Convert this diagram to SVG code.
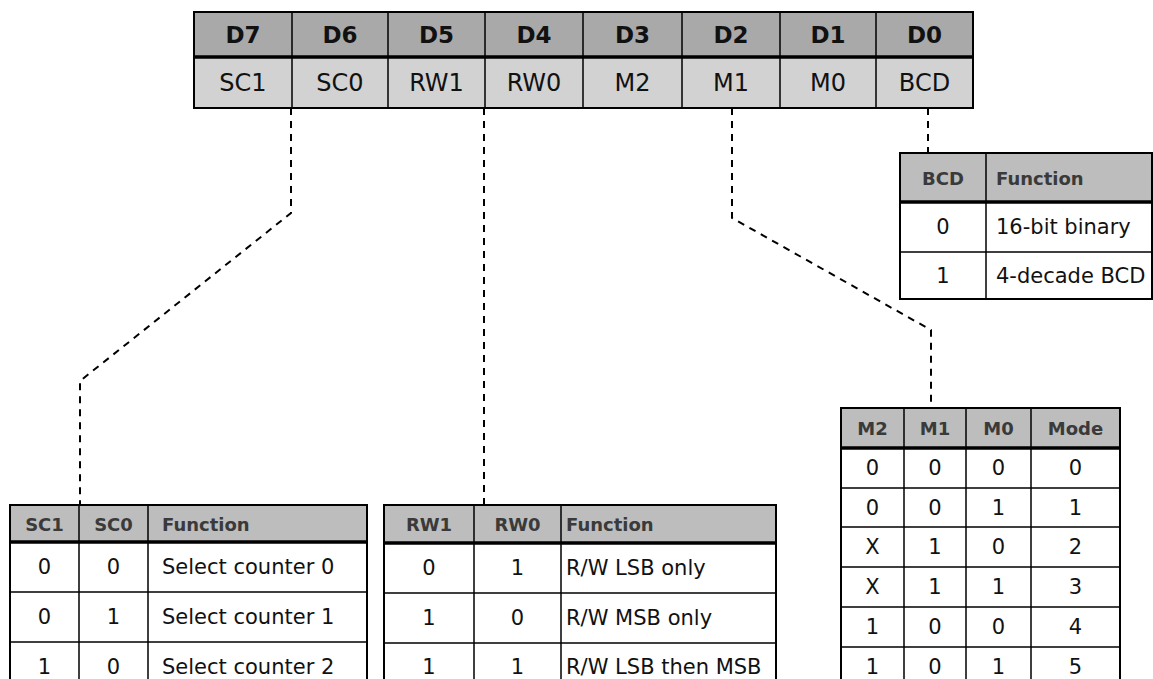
<svg xmlns="http://www.w3.org/2000/svg" width="1153" height="679" viewBox="0 0 1153 679">
  <style>
    .bg { fill: #ffffff; }
    .hdr { fill: #a9a9a9; }
    .hdr2 { fill: #d2d2d2; }
    .th { fill: #bdbdbd; }
    .cell { fill: #ffffff; }
    .frame { fill: none; stroke: #000; stroke-width: 2; }
    .grid { stroke: #000; stroke-width: 1.5; fill: none; }
    .thick { stroke: #000; stroke-width: 3.5; }
    .conn { fill: none; stroke: #000; stroke-width: 2; stroke-dasharray: 7 6; }
    text { font-family: "DejaVu Sans", "Liberation Sans", sans-serif; fill: #111; dominant-baseline: central; }
    .rh { font-size: 23px; font-weight: bold; text-anchor: middle; }
    .rr { font-size: 24px; text-anchor: middle; }
    .tht { font-size: 18px; font-weight: bold; fill: #3a3a3a; }
    .c { text-anchor: middle; }
    .tb { font-size: 21px; }
  </style>
  <rect class="bg" x="0" y="0" width="1153" height="679"/>

  <g id="connectors">
    <path class="conn" d="M 291 108 V 213 L 80 381 V 505"/>
    <path class="conn" d="M 484 108 V 505"/>
    <path class="conn" d="M 732 108 V 218 L 931 330 V 408"/>
    <path class="conn" d="M 928 108 V 153"/>
  </g>

  <g id="register">
    <rect class="hdr" x="194" y="12" width="779" height="45"/>
    <rect class="hdr2" x="194" y="57" width="779" height="51"/>
    <rect class="frame" x="194" y="12" width="779" height="96"/>
    <line class="thick" x1="194" y1="57" x2="973" y2="57"/>
    <path class="grid" d="M292 12V108 M388 12V108 M485 12V108 M583 12V108 M682 12V108 M780 12V108 M876 12V108"/>
    <text class="rh" x="243" y="35">D7</text>
    <text class="rh" x="340" y="35">D6</text>
    <text class="rh" x="436.5" y="35">D5</text>
    <text class="rh" x="534" y="35">D4</text>
    <text class="rh" x="632.5" y="35">D3</text>
    <text class="rh" x="731" y="35">D2</text>
    <text class="rh" x="828" y="35">D1</text>
    <text class="rh" x="924.5" y="35">D0</text>
    <text class="rr" x="243" y="83">SC1</text>
    <text class="rr" x="340" y="83">SC0</text>
    <text class="rr" x="436.5" y="83">RW1</text>
    <text class="rr" x="534" y="83">RW0</text>
    <text class="rr" x="632.5" y="83">M2</text>
    <text class="rr" x="731" y="83">M1</text>
    <text class="rr" x="828" y="83">M0</text>
    <text class="rr" x="924.5" y="83">BCD</text>
  </g>

  <g id="table-bcd">
    <rect class="th" x="900" y="153" width="252" height="49"/>
    <rect class="cell" x="900" y="202" width="252" height="97"/>
    <rect class="frame" x="900" y="153" width="252" height="146"/>
    <line class="thick" x1="900" y1="202" x2="1152" y2="202"/>
    <path class="grid" d="M986 153V299 M900 252H1152"/>
    <text class="tht c" x="943" y="178">BCD</text>
    <text class="tht" x="996" y="178">Function</text>
    <text class="tb c" x="943" y="227">0</text>
    <text class="tb" x="996" y="227">16-bit binary</text>
    <text class="tb c" x="943" y="276">1</text>
    <text class="tb" x="996" y="276">4-decade BCD</text>
  </g>

  <g id="table-sc">
    <rect class="th" x="10" y="505" width="357" height="37"/>
    <rect class="cell" x="10" y="542" width="357" height="150"/>
    <rect class="frame" x="10" y="505" width="357" height="187"/>
    <line class="thick" x1="10" y1="542" x2="367" y2="542"/>
    <path class="grid" d="M79 505V692 M148 505V692 M10 592H367 M10 642H367"/>
    <text class="tht c" x="44.5" y="524">SC1</text>
    <text class="tht c" x="113.5" y="524">SC0</text>
    <text class="tht" x="162" y="524">Function</text>
    <text class="tb c" x="44.5" y="567">0</text>
    <text class="tb c" x="113.5" y="567">0</text>
    <text class="tb" x="162" y="567">Select counter 0</text>
    <text class="tb c" x="44.5" y="617">0</text>
    <text class="tb c" x="113.5" y="617">1</text>
    <text class="tb" x="162" y="617">Select counter 1</text>
    <text class="tb c" x="44.5" y="667">1</text>
    <text class="tb c" x="113.5" y="667">0</text>
    <text class="tb" x="162" y="667">Select counter 2</text>
  </g>

  <g id="table-rw">
    <rect class="th" x="384" y="505" width="392" height="38"/>
    <rect class="cell" x="384" y="543" width="392" height="150"/>
    <rect class="frame" x="384" y="505" width="392" height="188"/>
    <line class="thick" x1="384" y1="543" x2="776" y2="543"/>
    <path class="grid" d="M474 505V693 M561 505V693 M384 593H776 M384 643H776"/>
    <text class="tht c" x="429" y="524">RW1</text>
    <text class="tht c" x="517.5" y="524">RW0</text>
    <text class="tht" x="566" y="524">Function</text>
    <text class="tb c" x="429" y="568">0</text>
    <text class="tb c" x="517.5" y="568">1</text>
    <text class="tb" x="566" y="568">R/W LSB only</text>
    <text class="tb c" x="429" y="618">1</text>
    <text class="tb c" x="517.5" y="618">0</text>
    <text class="tb" x="566" y="618">R/W MSB only</text>
    <text class="tb c" x="429" y="667">1</text>
    <text class="tb c" x="517.5" y="667">1</text>
    <text class="tb" x="566" y="667">R/W LSB then MSB</text>
  </g>

  <g id="table-mode">
    <rect class="th" x="841" y="408" width="279" height="40"/>
    <rect class="cell" x="841" y="448" width="279" height="239"/>
    <rect class="frame" x="841" y="408" width="279" height="279"/>
    <line class="thick" x1="841" y1="448" x2="1120" y2="448"/>
    <path class="grid" d="M904 408V687 M966 408V687 M1031 408V687 M841 488H1120 M841 527H1120 M841 567H1120 M841 607H1120 M841 647H1120"/>
    <text class="tht c" x="872.5" y="428">M2</text>
    <text class="tht c" x="935" y="428">M1</text>
    <text class="tht c" x="998.5" y="428">M0</text>
    <text class="tht c" x="1075.5" y="428">Mode</text>
    <text class="tb c" x="872.5" y="468">0</text>
    <text class="tb c" x="935" y="468">0</text>
    <text class="tb c" x="998.5" y="468">0</text>
    <text class="tb c" x="1075.5" y="468">0</text>
    <text class="tb c" x="872.5" y="507.5">0</text>
    <text class="tb c" x="935" y="507.5">0</text>
    <text class="tb c" x="998.5" y="507.5">1</text>
    <text class="tb c" x="1075.5" y="507.5">1</text>
    <text class="tb c" x="872.5" y="547">X</text>
    <text class="tb c" x="935" y="547">1</text>
    <text class="tb c" x="998.5" y="547">0</text>
    <text class="tb c" x="1075.5" y="547">2</text>
    <text class="tb c" x="872.5" y="587">X</text>
    <text class="tb c" x="935" y="587">1</text>
    <text class="tb c" x="998.5" y="587">1</text>
    <text class="tb c" x="1075.5" y="587">3</text>
    <text class="tb c" x="872.5" y="627">1</text>
    <text class="tb c" x="935" y="627">0</text>
    <text class="tb c" x="998.5" y="627">0</text>
    <text class="tb c" x="1075.5" y="627">4</text>
    <text class="tb c" x="872.5" y="667">1</text>
    <text class="tb c" x="935" y="667">0</text>
    <text class="tb c" x="998.5" y="667">1</text>
    <text class="tb c" x="1075.5" y="667">5</text>
  </g>
</svg>
